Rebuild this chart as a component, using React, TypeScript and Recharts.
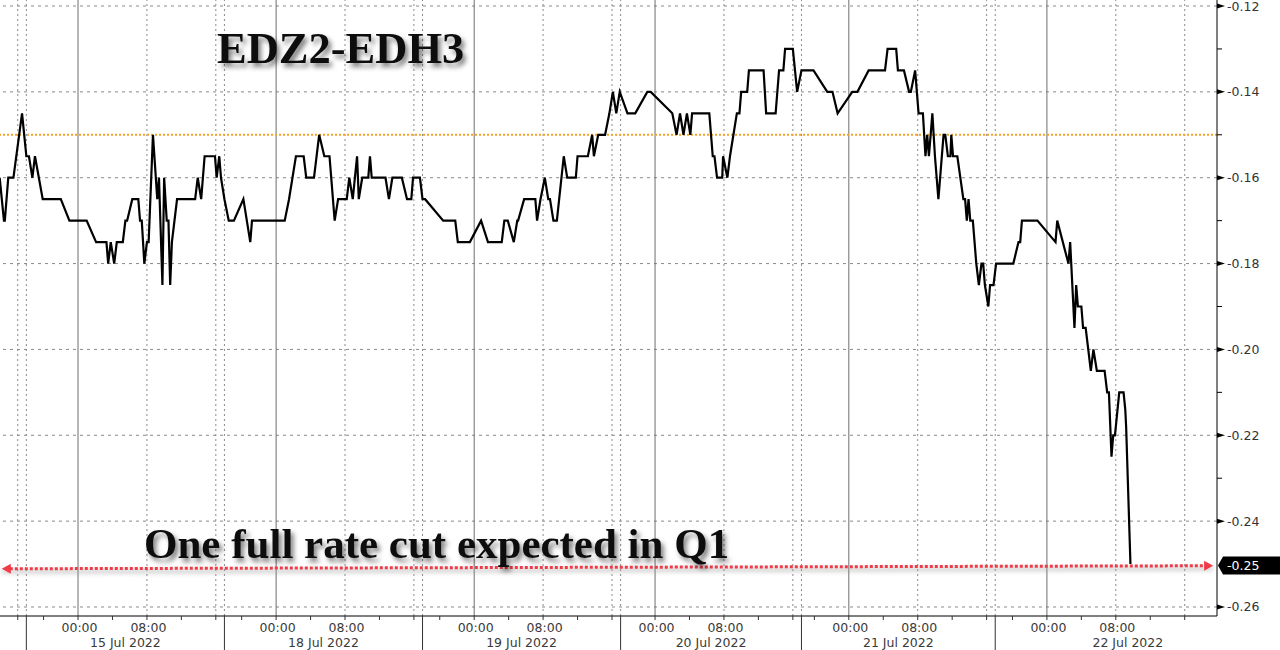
import { LineChart, Line, XAxis, YAxis, ReferenceLine } from "recharts";

// x = trading hours, 15 Jul 2022 00:00 = 0 (weekend and session gaps are squeezed out)
const hours = [
  -9.1, -8.6, -8.5, -8.1, -7.5, -6.5, -6.0, -5.7, -5.3, -5.0,
  -4.1, -2.0, -1.0, 1.0, 2.1, 3.3, 3.5, 3.8, 4.2, 4.5,
  5.2, 5.5, 5.7, 6.3, 7.0, 7.2, 7.4, 7.7, 8.0, 8.2,
  8.7, 9.2, 9.4, 9.8, 10.0, 10.3, 10.5, 10.7, 10.9, 11.5,
  13.6, 13.9, 14.3, 14.7, 15.9, 16.1, 16.4, 16.6, 17.0, 17.5,
  18.1, 19.2, 20.0, 20.2, 24.0, 24.5, 25.3, 26.2, 26.5, 27.4,
  28.0, 28.6, 29.2, 29.8, 30.2, 31.2, 31.5, 31.9, 32.4, 32.6,
  33.0, 33.7, 33.9, 34.1, 35.7, 36.1, 36.5, 37.6, 38.2, 38.7,
  38.9, 39.7, 40.0, 40.3, 42.4, 43.8, 44.1, 45.5, 46.8, 47.6,
  49.2, 49.5, 49.9, 50.6, 51.0, 51.1, 51.8, 53.1, 53.3, 53.7,
  54.2, 54.6, 54.8, 55.2, 55.6, 56.4, 56.8, 57.8, 58.0, 59.2,
  59.7, 59.9, 60.4, 61.2, 61.7, 62.1, 62.5, 62.9, 63.8, 64.7,
  66.1, 66.5, 69.0, 69.5, 69.9, 70.3, 70.7, 71.1, 71.3, 73.3,
  73.7, 73.9, 74.2, 74.8, 74.9, 75.4, 75.7, 76.5, 76.8, 77.0,
  77.7, 77.9, 79.6, 79.9, 81.0, 81.4, 81.9, 82.1, 83.0, 83.5,
  84.0, 85.4, 87.0, 87.6, 88.2, 89.9, 90.5, 91.8, 93.7, 94.0,
  95.0, 95.2, 95.9, 96.5, 96.7, 97.2, 97.6, 98.1, 98.4, 98.6,
  98.8, 99.2, 99.5, 99.9, 100.5, 100.7, 101.0, 101.3, 101.4, 101.6,
  102.1, 102.8, 103.0, 103.2, 103.4, 103.6, 103.9, 104.3, 104.6, 104.9,
  105.1, 105.3, 105.7, 105.9, 106.3, 106.6, 108.6, 109.2, 109.4, 109.6,
  111.4, 113.5, 113.7, 115.0, 115.2, 115.7, 115.9, 116.1, 116.5, 116.7,
  117.0, 117.6, 117.9, 118.3, 119.2, 119.5, 119.7, 120.0, 120.2, 120.4,
  120.9, 121.4, 121.6, 121.7, 122.2,
];

const spread = [
  -0.16, -0.17, -0.17, -0.16, -0.16, -0.145, -0.155, -0.155, -0.16, -0.155,
  -0.165, -0.165, -0.17, -0.17, -0.175, -0.175, -0.18, -0.175, -0.18, -0.175,
  -0.175, -0.17, -0.17, -0.165, -0.165, -0.17, -0.17, -0.18, -0.175, -0.175,
  -0.15, -0.165, -0.16, -0.185, -0.16, -0.17, -0.17, -0.185, -0.175, -0.165,
  -0.165, -0.16, -0.165, -0.155, -0.155, -0.16, -0.155, -0.16, -0.165, -0.17,
  -0.17, -0.165, -0.175, -0.17, -0.17, -0.165, -0.155, -0.155, -0.16, -0.16,
  -0.15, -0.155, -0.155, -0.17, -0.165, -0.165, -0.16, -0.165, -0.155, -0.165,
  -0.16, -0.16, -0.155, -0.16, -0.16, -0.165, -0.16, -0.16, -0.165, -0.165,
  -0.16, -0.16, -0.165, -0.165, -0.17, -0.17, -0.175, -0.175, -0.17, -0.175,
  -0.175, -0.17, -0.17, -0.175, -0.17, -0.17, -0.165, -0.165, -0.17, -0.165,
  -0.16, -0.165, -0.165, -0.17, -0.17, -0.155, -0.16, -0.16, -0.155, -0.155,
  -0.15, -0.155, -0.15, -0.15, -0.145, -0.14, -0.145, -0.14, -0.145, -0.145,
  -0.14, -0.14, -0.145, -0.15, -0.145, -0.15, -0.145, -0.15, -0.145, -0.145,
  -0.155, -0.155, -0.16, -0.16, -0.155, -0.16, -0.155, -0.145, -0.145, -0.14,
  -0.14, -0.135, -0.135, -0.145, -0.145, -0.135, -0.135, -0.13, -0.13, -0.14,
  -0.135, -0.135, -0.14, -0.14, -0.145, -0.14, -0.14, -0.135, -0.135, -0.13,
  -0.13, -0.135, -0.135, -0.14, -0.14, -0.135, -0.145, -0.145, -0.155, -0.15,
  -0.155, -0.145, -0.155, -0.165, -0.15, -0.15, -0.155, -0.155, -0.15, -0.155,
  -0.155, -0.165, -0.165, -0.17, -0.165, -0.17, -0.17, -0.18, -0.185, -0.18,
  -0.18, -0.185, -0.19, -0.185, -0.185, -0.18, -0.18, -0.175, -0.175, -0.17,
  -0.17, -0.175, -0.17, -0.18, -0.175, -0.195, -0.185, -0.19, -0.19, -0.195,
  -0.195, -0.205, -0.2, -0.205, -0.205, -0.21, -0.21, -0.225, -0.22, -0.22,
  -0.21, -0.21, -0.214, -0.218, -0.25,
];

const sessionOpens = [-6, 17, 40, 63, 84, 106.5];
const midnights = [0, 23, 46, 67, 89.5, 112.5];
const dayLabels = ["15 Jul 2022", "18 Jul 2022", "19 Jul 2022", "20 Jul 2022", "21 Jul 2022", "22 Jul 2022"];
const dayLabelAt = [5.5, 28.5, 51.5, 73.5, 95.25, 121.9];
const hourOffsets = [-4, 0, 4, 8, 12, 16];
const earlyTicks = [-7]; // 14 Jul 16:00

const yTicks = [-0.26, -0.25, -0.24, -0.23, -0.22, -0.21, -0.2, -0.19, -0.18, -0.17, -0.16, -0.15, -0.14, -0.13, -0.12];
const yGrid = [-0.26, -0.24, -0.22, -0.2, -0.18, -0.16, -0.14, -0.12];
const threshold = -0.15;
const cutLine = [{ x: -8.85, y: -0.2511 }, { x: 131.8, y: -0.2504 }];

const X_DOMAIN: [number, number] = [-9.06, 132.25];
const Y_DOMAIN: [number, number] = [-0.2621, -0.1186];

const data = hours.map((h, i) => ({ h, v: spread[i] }));
const lastValue = spread[spread.length - 1];

// tick lookup for the time axis
const tickInfo = new Map<number, { kind: string; label?: string }>();
earlyTicks.forEach((t) => tickInfo.set(t, { kind: "hour" }));
midnights.forEach((m, i) => {
  hourOffsets.forEach((o) => {
    const t = m + o;
    if (t <= sessionOpens[i] || t <= X_DOMAIN[0]) return;
    tickInfo.set(t, { kind: "hour", label: o === 0 ? "00:00" : o === 8 ? "08:00" : undefined });
  });
});
sessionOpens.forEach((t) => tickInfo.set(t, { kind: "break" }));
dayLabelAt.forEach((t, i) => tickInfo.set(t, { kind: "day", label: dayLabels[i] }));
const xTicks = Array.from(tickInfo.keys()).sort((a, b) => a - b);

const dottedX = [
  ...earlyTicks,
  ...sessionOpens,
  ...midnights.flatMap((m) => [m + 8, m + 16]),
];

const FONT = "'DejaVu Sans', Verdana, sans-serif";
const LABEL = "#3a3a3a";

const XTick = ({ x, y, payload }: any) => {
  const info = tickInfo.get(payload.value);
  if (!info) return null;
  if (info.kind === "break") return <line x1={x} x2={x} y1={y} y2={y + 34} stroke="#333" />;
  if (info.kind === "day")
    return (
      <text x={x} y={y + 26} textAnchor="middle" dominantBaseline="central" fontSize={12.5} fontFamily={FONT} fill={LABEL}>
        {info.label}
      </text>
    );
  return (
    <g>
      <line x1={x} x2={x} y1={y} y2={y + 4} stroke="#333" />
      {info.label && (
        <text x={x + 1.5} y={y + 11} textAnchor="middle" dominantBaseline="central" fontSize={12.5} fontFamily={FONT} fill={LABEL}>
          {info.label}
        </text>
      )}
    </g>
  );
};

const YTick = ({ x, y, payload }: any) => {
  const v = payload.value as number;
  if (Math.abs(v - lastValue) < 1e-9) {
    const yy = y + 1.5;
    return (
      <g>
        <polygon points={`${x + 1},${yy} ${x + 6},${yy - 9} ${x + 70},${yy - 9} ${x + 70},${yy + 9} ${x + 6},${yy + 9}`} fill="#000" />
        <text x={x + 10} y={yy} dominantBaseline="central" fontSize={12.5} fontFamily={FONT} fill="#fff">
          {v.toFixed(2)}
        </text>
      </g>
    );
  }
  if (Math.round(v * 100) % 2 === 0) {
    return (
      <g>
        <polygon points={`${x},${y - 2.5} ${x + 8},${y} ${x},${y + 2.5}`} fill="#000" />
        <text x={x + 10} y={y} dominantBaseline="central" fontSize={12.5} fontFamily={FONT} fill="#333">
          {v.toFixed(2)}
        </text>
      </g>
    );
  }
  return <line x1={x} x2={x + 5} y1={y} y2={y} stroke="#000" />;
};

const ArrowLine = ({ x1, y1, x2, y2 }: any) => {
  const red = "#ef3b47";
  return (
    <g>
      <line x1={x1} y1={y1 + 3} x2={x2} y2={y2 + 3} stroke="#999" strokeWidth={4} opacity={0.45} filter="url(#blurShadow)" />
      <line x1={x1 + 8} y1={y1} x2={x2 - 8} y2={y2} stroke={red} strokeWidth={3} strokeDasharray="3 2" />
      <polygon points={`${x1},${y1} ${x1 + 9},${y1 - 5} ${x1 + 9},${y1 + 5}`} fill={red} />
      <polygon points={`${x2},${y2} ${x2 - 9},${y2 - 5} ${x2 - 9},${y2 + 5}`} fill={red} />
    </g>
  );
};

export default function App() {
  return (
    <div style={{ position: "absolute", left: 0, top: 0, width: 1280, height: 650, background: "#fff", overflow: "hidden" }}>
      <LineChart width={1280} height={650} data={data} margin={{ top: 0, right: 0, bottom: 0, left: 0 }}>
        <defs>
          <filter id="blurShadow" x="-5%" y="-200%" width="110%" height="500%">
            <feGaussianBlur stdDeviation="2" />
          </filter>
        </defs>
        <XAxis
          dataKey="h"
          type="number"
          domain={X_DOMAIN}
          allowDataOverflow
          ticks={xTicks}
          interval={0}
          tickSize={0}
          tickMargin={0}
          tickLine={false}
          tick={<XTick />}
          height={34}
          axisLine={{ stroke: "#000" }}
        />
        <YAxis
          orientation="right"
          type="number"
          domain={Y_DOMAIN}
          allowDataOverflow
          ticks={yTicks}
          interval={0}
          tickSize={0}
          tickMargin={0}
          tickLine={false}
          tick={<YTick />}
          width={63}
          axisLine={{ stroke: "#000" }}
        />
        {yGrid.map((v) => (
          <ReferenceLine key={`hy${v}`} y={v} stroke="#8a8a8a" strokeDasharray="3 4" />
        ))}
        {dottedX.map((t) => (
          <ReferenceLine key={`dx${t}`} x={t} stroke="#8a8a8a" strokeDasharray="2 3" />
        ))}
        {midnights.map((t) => (
          <ReferenceLine key={`mx${t}`} x={t} stroke="#6e6e6e" />
        ))}
        <ReferenceLine y={threshold} stroke="#f5a32a" strokeWidth={2} strokeDasharray="2 2" />
        <Line
          type="linear"
          dataKey="v"
          stroke="#000"
          strokeWidth={2.2}
          dot={false}
          isAnimationActive={false}
        />
        <ReferenceLine segment={cutLine} shape={<ArrowLine />} />
      </LineChart>
      <svg width={1280} height={650} style={{ position: "absolute", left: 0, top: 0, pointerEvents: "none" }}>
        <defs>
          <filter id="textShadow" x="-10%" y="-30%" width="120%" height="170%">
            <feDropShadow dx="3" dy="4" stdDeviation="2.5" floodColor="#000" floodOpacity="0.5" />
          </filter>
        </defs>
        <text x={217} y={63} fontFamily="'Liberation Serif', 'Times New Roman', serif" fontWeight="bold" fontSize={44.5} fill="#111" filter="url(#textShadow)">
          EDZ2-EDH3
        </text>
        <text x={144} y={558} fontFamily="'Liberation Serif', 'Times New Roman', serif" fontWeight="bold" fontSize={43} fill="#111" filter="url(#textShadow)">
          One full rate cut expected in Q1
        </text>
      </svg>
    </div>
  );
}
